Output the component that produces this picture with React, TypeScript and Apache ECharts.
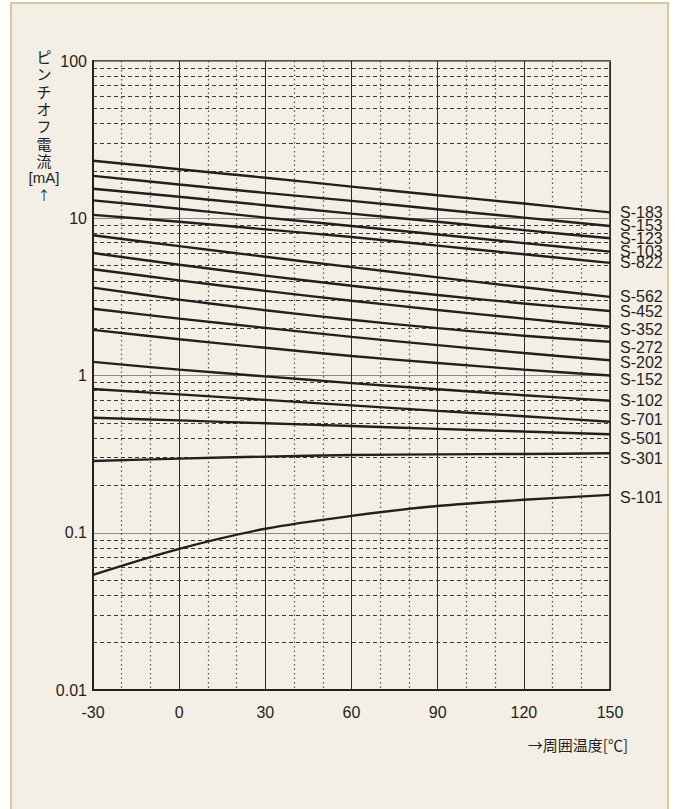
import React, { useEffect, useRef } from "react";
import * as echarts from "echarts";

const temps = [-30, 0, 30, 60, 90, 120, 150];
const seriesNames = [
  "S-183", "S-153", "S-123", "S-103", "S-822", "S-562", "S-452", "S-352",
  "S-272", "S-202", "S-152", "S-102", "S-701", "S-501", "S-301", "S-101",
];
const s183 = [23.2, 20.5, 18.1, 15.9, 14.0, 12.4, 10.9];
const s153 = [18.6, 16.4, 14.5, 12.9, 11.4, 10.1, 8.93];
const s123 = [15.4, 13.7, 12.1, 10.7, 9.5, 8.4, 7.46];
const s103 = [13.0, 11.5, 10.1, 8.93, 7.88, 6.95, 6.13];
const s822 = [10.5, 9.5, 8.5, 7.6, 6.7, 5.9, 5.2];
const s562 = [7.79, 6.65, 5.69, 4.89, 4.21, 3.64, 3.16];
const s452 = [6.01, 5.06, 4.32, 3.72, 3.25, 2.87, 2.57];
const s352 = [4.74, 4.03, 3.45, 2.99, 2.61, 2.3, 2.04];
const s272 = [3.62, 3.04, 2.6, 2.26, 2.0, 1.79, 1.64];
const s202 = [2.66, 2.3, 2.01, 1.76, 1.56, 1.39, 1.25];
const s152 = [1.95, 1.7, 1.5, 1.33, 1.2, 1.09, 1.0];
const s102 = [1.22, 1.09, 0.987, 0.895, 0.817, 0.749, 0.691];
const s701 = [0.82, 0.758, 0.7, 0.646, 0.596, 0.551, 0.508];
const s501 = [0.539, 0.518, 0.497, 0.477, 0.458, 0.44, 0.423];
const s301 = [0.286, 0.296, 0.305, 0.312, 0.315, 0.317, 0.32];
const s101 = [0.054, 0.079, 0.106, 0.128, 0.148, 0.162, 0.174];
const seriesValues = [
  s183, s153, s123, s103, s822, s562, s452, s352,
  s272, s202, s152, s102, s701, s501, s301, s101,
];
const yTickLabels = ["0.01", "0.1", "1", "10", "100"];
const minorGridValues = [
  0.02, 0.03, 0.04, 0.05, 0.06, 0.07, 0.08, 0.09,
  0.2, 0.3, 0.4, 0.5, 0.6, 0.7, 0.8, 0.9,
  2, 3, 4, 5, 6, 7, 8, 9,
  20, 30, 40, 50, 60, 70, 80, 90,
];
const yAxisTitle = "ピ\nン\nチ\nオ\nフ\n電\n流";
const yAxisUnit = "[mA]";
const yAxisArrow = "↑";
const xAxisTitle = "→周囲温度[℃]";

// vertical nudges (px) of the end labels, as in the reference layout
const labelNudgeY = [0, 0, 0, 0, 0, 0, 0, 3, 6, 2, 4, 0, -2, 4, 5, 3];

const FONT = '"Liberation Sans", Arial, "Noto Sans CJK JP", sans-serif';
const CJK = '"Noto Sans CJK JP", "Liberation Sans", sans-serif';
const INK = "#231f20";

export default function App() {
  const ref = useRef<HTMLDivElement>(null);
  useEffect(() => {
    if (!ref.current) return;
    const chart = echarts.init(ref.current, undefined, { renderer: "svg" });
    const series: any[] = seriesNames.map((name, i) => ({
      name,
      type: "line",
      data: temps.map((t, j) => [t, seriesValues[i][j]]),
      smooth: 0.3,
      showSymbol: false,
      symbol: "none",
      lineStyle: { color: INK, width: 2.4 },
      endLabel: {
        show: true,
        formatter: "{a}",
        distance: 10,
        offset: [0, labelNudgeY[i]],
        fontSize: 16,
        fontFamily: FONT,
        color: INK,
      },
      labelLayout: { hideOverlap: false },
      z: 5,
    }));
    series.push({
      name: "minor-grid",
      type: "line",
      data: [],
      silent: true,
      markLine: {
        silent: true,
        symbol: "none",
        label: { show: false },
        lineStyle: { color: "#3a3a3a", width: 1, type: [4, 3] },
        data: minorGridValues.map((v) => ({ yAxis: v })),
      },
      z: 1,
    });
    chart.setOption({
      animation: false,
      backgroundColor: "transparent",
      grid: {
        left: 93,
        right: 65,
        top: 61,
        bottom: 119,
        show: true,
        borderColor: INK,
        borderWidth: 1.5,
        backgroundColor: "transparent",
      },
      xAxis: {
        type: "value",
        min: -30,
        max: 150,
        interval: 30,
        axisLine: { show: true, onZero: false, lineStyle: { color: INK, width: 2 } },
        axisTick: { show: false },
        axisLabel: { fontSize: 16, fontFamily: FONT, color: INK, margin: 14 },
        splitLine: { show: true, lineStyle: { color: "#2a2a2a", width: 1 } },
        minorTick: { show: false, splitNumber: 3 },
        minorSplitLine: {
          show: true,
          lineStyle: { color: "#555", width: 1.2, type: [1.5, 3] },
        },
      },
      yAxis: {
        type: "log",
        logBase: 10,
        min: 0.01,
        max: 100,
        axisLine: { show: true, onZero: false, lineStyle: { color: INK, width: 2 } },
        axisTick: { show: false },
        axisLabel: {
          fontSize: 16,
          fontFamily: FONT,
          color: INK,
          margin: 6,
          formatter: (v: number) => {
            const e = Math.round(Math.log10(v)) + 2;
            return yTickLabels[e] ?? String(v);
          },
        },
        splitLine: { show: true, lineStyle: { color: "#8a8a8a", width: 1 } },
      },
      graphic: [
        {
          type: "rect",
          z: -100,
          silent: true,
          shape: { x: 11, y: 3, width: 657, height: 900 },
          style: { fill: "#f4efe4", stroke: "#dcc7a0", lineWidth: 2 },
        },
        {
          type: "text",
          z: 10,
          x: 44,
          y: 48,
          style: {
            text: yAxisTitle,
            align: "center",
            verticalAlign: "top",
            lineHeight: 17.3,
            fontSize: 15,
            fontFamily: CJK,
            fill: INK,
          },
        },
        {
          type: "text",
          z: 10,
          x: 44,
          y: 177,
          style: {
            text: yAxisUnit,
            align: "center",
            verticalAlign: "middle",
            fontSize: 15,
            fontFamily: FONT,
            fill: INK,
          },
        },
        {
          type: "text",
          z: 10,
          x: 44,
          y: 194,
          style: {
            text: yAxisArrow,
            align: "center",
            verticalAlign: "middle",
            fontSize: 13,
            fontFamily: CJK,
            fill: INK,
          },
        },
        {
          type: "text",
          z: 10,
          x: 628,
          y: 744,
          style: {
            text: xAxisTitle,
            align: "right",
            verticalAlign: "middle",
            fontSize: 15,
            fontFamily: CJK,
            fill: INK,
          },
        },
      ],
      series,
    });
    return () => chart.dispose();
  }, []);
  return (
    <div
      style={{
        position: "fixed",
        left: 0,
        top: 0,
        width: 675,
        height: 809,
        background: "#ffffff",
      }}
    >
      <div ref={ref} style={{ width: 675, height: 809 }} />
    </div>
  );
}
